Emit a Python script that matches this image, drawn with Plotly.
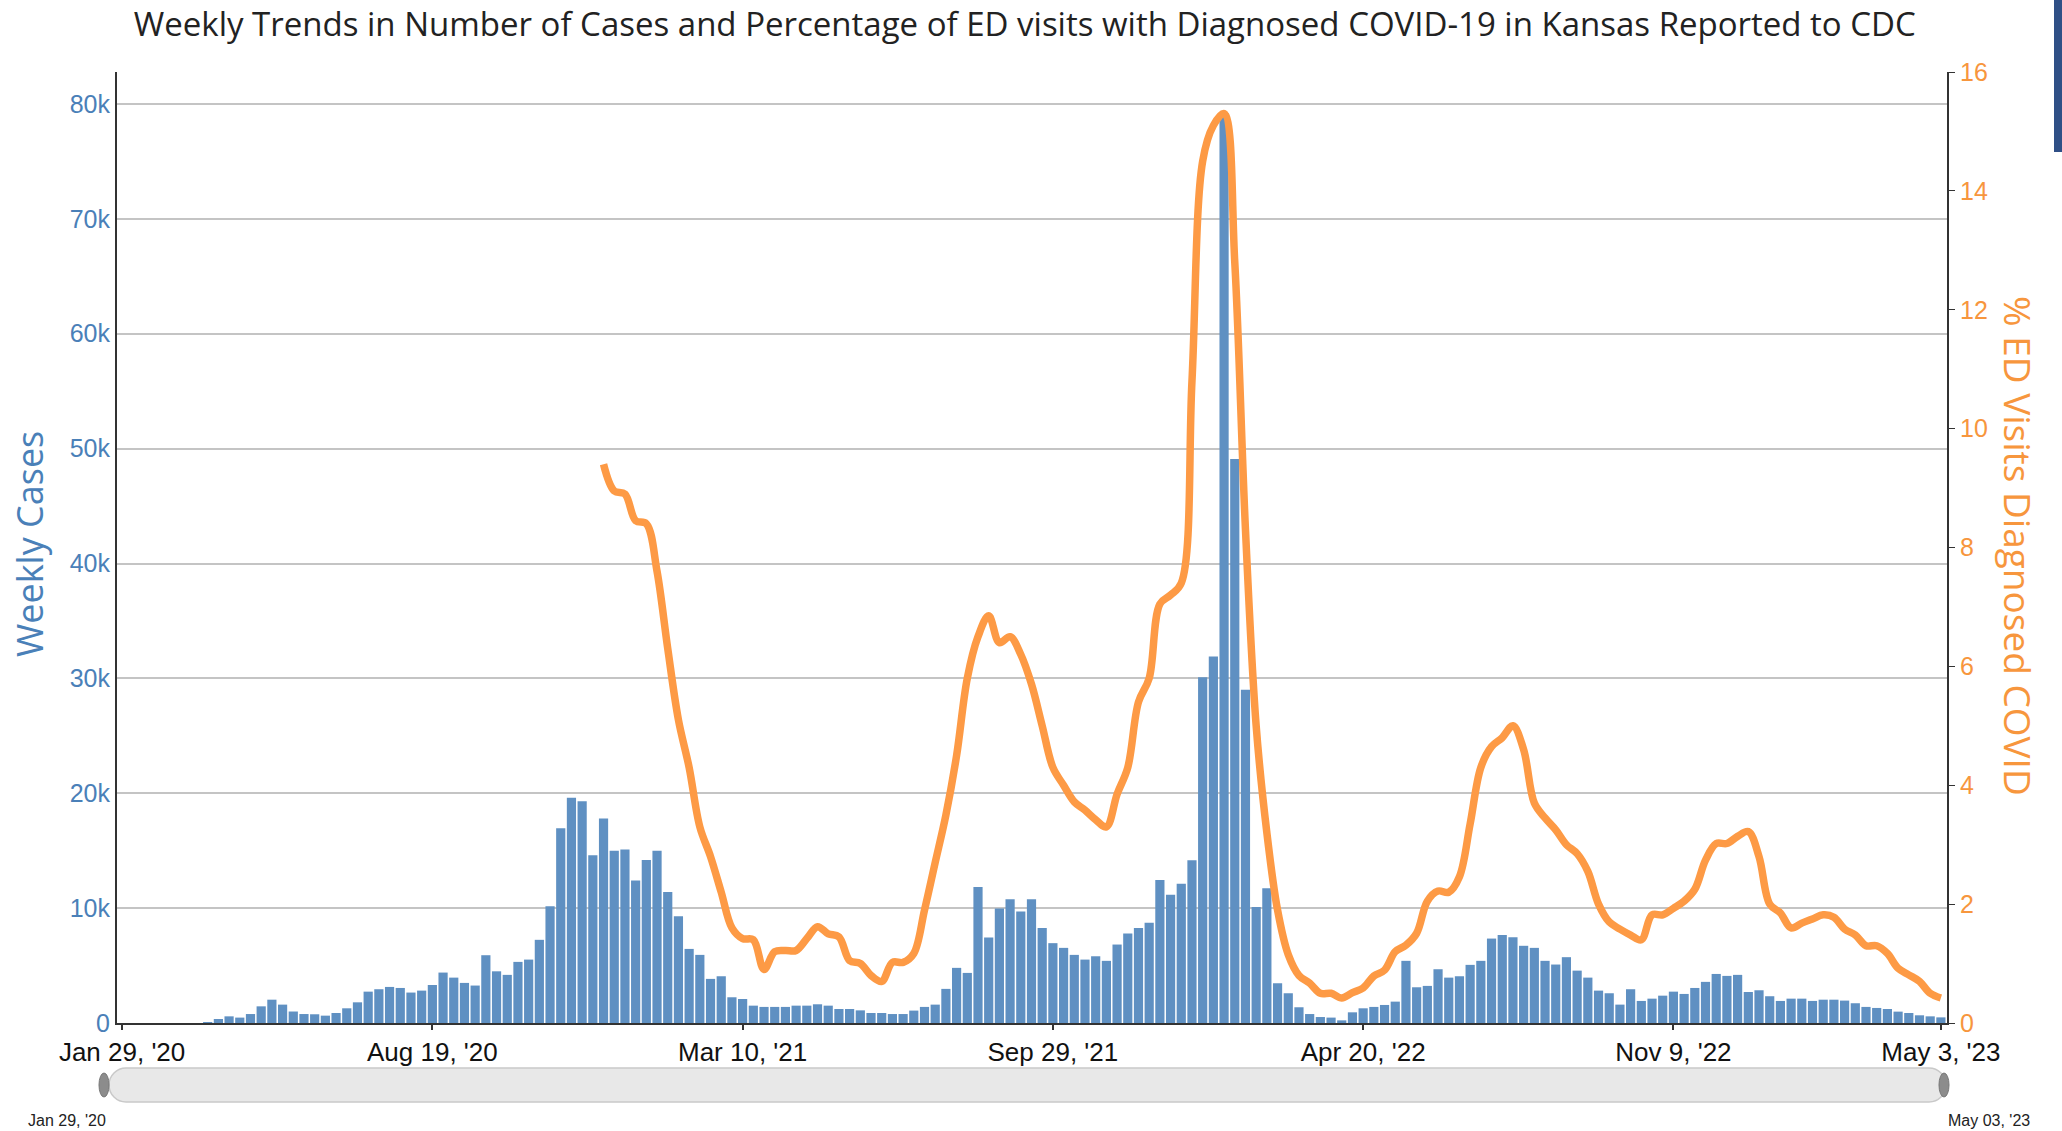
import plotly.graph_objects as go
import pandas as pd

# ---------------- data ----------------
start_date = "2020-01-29"

weekly_cases = [
    0, 0, 0, 0, 0, 0, 0, 0, 50, 350,
    580, 470, 780, 1450, 2030, 1600, 1000, 780, 760, 640,
    870, 1280, 1800, 2730, 2940, 3140, 3050, 2650, 2820, 3310,
    4390, 3950, 3490, 3260, 5900, 4500, 4190, 5320, 5520, 7240,
    10170, 16950, 19600, 19300, 14600, 17800, 15000, 15100, 12400, 14200,
    15000, 11400, 9300, 6450, 5930, 3840, 4070, 2240, 2090, 1510,
    1400, 1400, 1400, 1510, 1510, 1630, 1510, 1220, 1220, 1100,
    870, 870, 780, 780, 1080, 1400, 1600, 2970, 4800, 4360,
    11830, 7440, 9970, 10780, 9710, 10780, 8260, 6950, 6540, 5930,
    5520, 5810, 5410, 6830, 7790, 8280, 8720, 12440, 11160, 12120,
    14160, 30100, 31900, 79200, 49100, 29000, 10090, 11720, 3460, 2590,
    1370, 780, 520, 470, 230, 930, 1280, 1400, 1570, 1860,
    5410, 3110, 3230, 4680, 3950, 4070, 5060, 5410, 7350, 7650,
    7470, 6720, 6540, 5410, 5090, 5730, 4560, 3950, 2820, 2590,
    1600, 2940, 1920, 2120, 2380, 2730, 2530, 3050, 3580, 4270,
    4100, 4190, 2700, 2850, 2330, 1920, 2120, 2120, 1920, 2030,
    2030, 1950, 1720, 1400, 1310, 1220, 990, 870, 670, 580,
    490,
]

ed_first_week = 45  # week index where the ED series begins
ed_pct = [
    9.4, 8.95, 8.9, 8.45, 8.4, 7.6, 6.3, 5.1, 4.3, 3.3,
    2.8, 2.2, 1.6, 1.42, 1.4, 0.9, 1.2, 1.22, 1.22, 1.42,
    1.62, 1.5, 1.45, 1.05, 1.0, 0.8, 0.7, 1.02, 1.02, 1.17,
    1.9, 2.7, 3.5, 4.5, 5.8, 6.5, 6.85, 6.4, 6.5, 6.2,
    5.7, 5.0, 4.3, 4.0, 3.72, 3.58, 3.42, 3.3, 3.85, 4.3,
    5.4, 5.8, 7.05, 7.2, 7.4, 10.8, 14.5, 15.1, 15.3, 12.8,
    8.3, 5.0, 3.2, 1.9, 1.15, 0.8, 0.67, 0.5, 0.5, 0.42,
    0.51, 0.59, 0.79, 0.89, 1.2, 1.31, 1.51, 2.05, 2.22, 2.2,
    2.46, 3.35, 4.3, 4.65, 4.8, 5.0, 4.6, 3.7, 3.45, 3.25,
    3.0, 2.85, 2.55, 2.0, 1.7, 1.58, 1.48, 1.4, 1.82, 1.82,
    1.93, 2.05, 2.25, 2.74, 3.02, 3.02, 3.14, 3.22, 2.8, 2.0,
    1.85, 1.6, 1.68, 1.75, 1.82, 1.78, 1.58, 1.48, 1.3, 1.3,
    1.17, 0.92, 0.81, 0.7, 0.5, 0.42,
]

x_tick_dates = ["2020-01-29", "2020-08-19", "2021-03-10", "2021-09-29",
                "2022-04-20", "2022-11-09", "2023-05-03"]
x_tick_labels = ["Jan 29, '20", "Aug 19, '20", "Mar 10, '21", "Sep 29, '21",
                 "Apr 20, '22", "Nov 9, '22", "May 3, '23"]
cases_ticks = [0, 10000, 20000, 30000, 40000, 50000, 60000, 70000, 80000]
cases_tick_labels = ["0", "10k", "20k", "30k", "40k", "50k", "60k", "70k", "80k"]
pct_ticks = [0, 2, 4, 6, 8, 10, 12, 14, 16]

# ---------------- styling ----------------
W, H = 2062, 1131
PL, PR, PT, PB = 117, 1947, 72, 1023   # plot area in pixels
BAR = "#5f90c2"
ORANGE = "#fd9a45"
BLUE_TXT = "#4a80b8"
ORANGE_TXT = "#f7963d"
AXIS = "#333333"


def px(x):
    return (x - PL) / (PR - PL)


def py(y):
    return (PB - y) / (PB - PT)


weeks = pd.date_range(start_date, periods=len(weekly_cases), freq="7D")
ed_weeks = weeks[ed_first_week:ed_first_week + len(ed_pct)]

fig = go.Figure()
fig.add_trace(go.Bar(x=weeks, y=weekly_cases, marker=dict(color=BAR, line=dict(width=0)),
                     name="Weekly Cases", yaxis="y", hoverinfo="x+y"))
fig.add_trace(go.Scatter(x=ed_weeks, y=ed_pct, mode="lines", name="% ED Visits",
                         line=dict(color=ORANGE, width=7.5, shape="spline", smoothing=1.0),
                         yaxis="y2"))

x0 = pd.Timestamp(x_tick_dates[0]) - pd.Timedelta(hours=80)
x1 = pd.Timestamp(x_tick_dates[-1]) + pd.Timedelta(hours=96)

fig.update_layout(
    width=W, height=H,
    margin=dict(l=PL, r=W - PR, t=PT, b=H - PB, pad=0),
    paper_bgcolor="white", plot_bgcolor="white",
    showlegend=False, bargap=0.14,
    title=dict(text="Weekly Trends in Number of Cases and Percentage of ED visits with Diagnosed COVID-19 in Kansas Reported to CDC",
               x=0.497, xanchor="center", y=1 - 24 / H, yanchor="middle",
               font=dict(family="Open Sans", size=33, color="#222222")),
    xaxis=dict(type="date", range=[x0, x1], tickvals=x_tick_dates, ticktext=x_tick_labels,
               ticks="outside", ticklen=5, tickwidth=1.5, tickcolor=AXIS,
               showline=True, linecolor=AXIS, linewidth=2, showgrid=False, zeroline=False,
               tickfont=dict(family="Liberation Sans", size=26, color="#111111")),
    yaxis=dict(range=[0, 82785], tickvals=cases_ticks, ticktext=cases_tick_labels,
               showgrid=True, gridcolor="#c4c4c4", gridwidth=1.5, zeroline=False,
               showline=True, linecolor=AXIS, linewidth=2, ticks="",
               tickfont=dict(family="Liberation Sans", size=25, color=BLUE_TXT)),
    yaxis2=dict(range=[0, 16], tickvals=pct_ticks, overlaying="y", side="right",
                showgrid=False, zeroline=False, showline=True, linecolor=AXIS, linewidth=2,
                ticks="outside", ticklen=6, tickcolor=AXIS,
                tickfont=dict(family="Liberation Sans", size=25, color=ORANGE_TXT)),
)

# axis titles
fig.add_annotation(text="Weekly Cases", xref="paper", yref="paper", x=px(29), y=py(544),
                   textangle=-90, showarrow=False, xanchor="center", yanchor="middle",
                   font=dict(family="Open Sans", size=36, color=BLUE_TXT))
fig.add_annotation(text="% ED Visits Diagnosed COVID", xref="paper", yref="paper", x=px(2019), y=py(546),
                   textangle=90, showarrow=False, xanchor="center", yanchor="middle",
                   font=dict(family="Open Sans", size=37, color=ORANGE_TXT))


# navigator / scrollbar decoration
def rounded_bar(xa, xb, ya, yb):
    r = (yb - ya) / 2
    k = 0.5523 * r
    pts = [
        f"M{px(xa + r)},{py(ya)}",
        f"L{px(xb - r)},{py(ya)}",
        f"C{px(xb - r + k)},{py(ya)} {px(xb)},{py(ya + r - k)} {px(xb)},{py(ya + r)}",
        f"C{px(xb)},{py(ya + r + k)} {px(xb - r + k)},{py(yb)} {px(xb - r)},{py(yb)}",
        f"L{px(xa + r)},{py(yb)}",
        f"C{px(xa + r - k)},{py(yb)} {px(xa)},{py(ya + r + k)} {px(xa)},{py(ya + r)}",
        f"C{px(xa)},{py(ya + r - k)} {px(xa + r - k)},{py(ya)} {px(xa + r)},{py(ya)}",
        "Z",
    ]
    return " ".join(pts)


fig.add_shape(type="path", xref="paper", yref="paper", path=rounded_bar(109, 1946, 1068, 1102),
              fillcolor="#e8e8e8", line=dict(color="#c9c9c9", width=1.5))
for hx in (104, 1944):
    fig.add_shape(type="circle", xref="paper", yref="paper",
                  x0=px(hx - 5), x1=px(hx + 5), y0=py(1073), y1=py(1097),
                  fillcolor="#8c8c8c", line=dict(color="#777777", width=1))
fig.add_annotation(text="Jan 29, '20", xref="paper", yref="paper", x=px(26), y=py(1120),
                   xanchor="left", yanchor="middle", showarrow=False,
                   font=dict(family="Liberation Sans", size=16, color="#222222"))
fig.add_annotation(text="May 03, '23", xref="paper", yref="paper", x=px(2032), y=py(1120),
                   xanchor="right", yanchor="middle", showarrow=False,
                   font=dict(family="Liberation Sans", size=16, color="#222222"))
# dark UI strip at top-right edge
fig.add_shape(type="rect", xref="paper", yref="paper", x0=px(2054), x1=px(2064), y0=py(152), y1=py(-2),
              fillcolor="#2f4f86", line=dict(width=0))

fig.write_html("out.html", config={"displayModeBar": False},
               post_script="document.body.style.margin='0';document.body.style.overflow='hidden';")
